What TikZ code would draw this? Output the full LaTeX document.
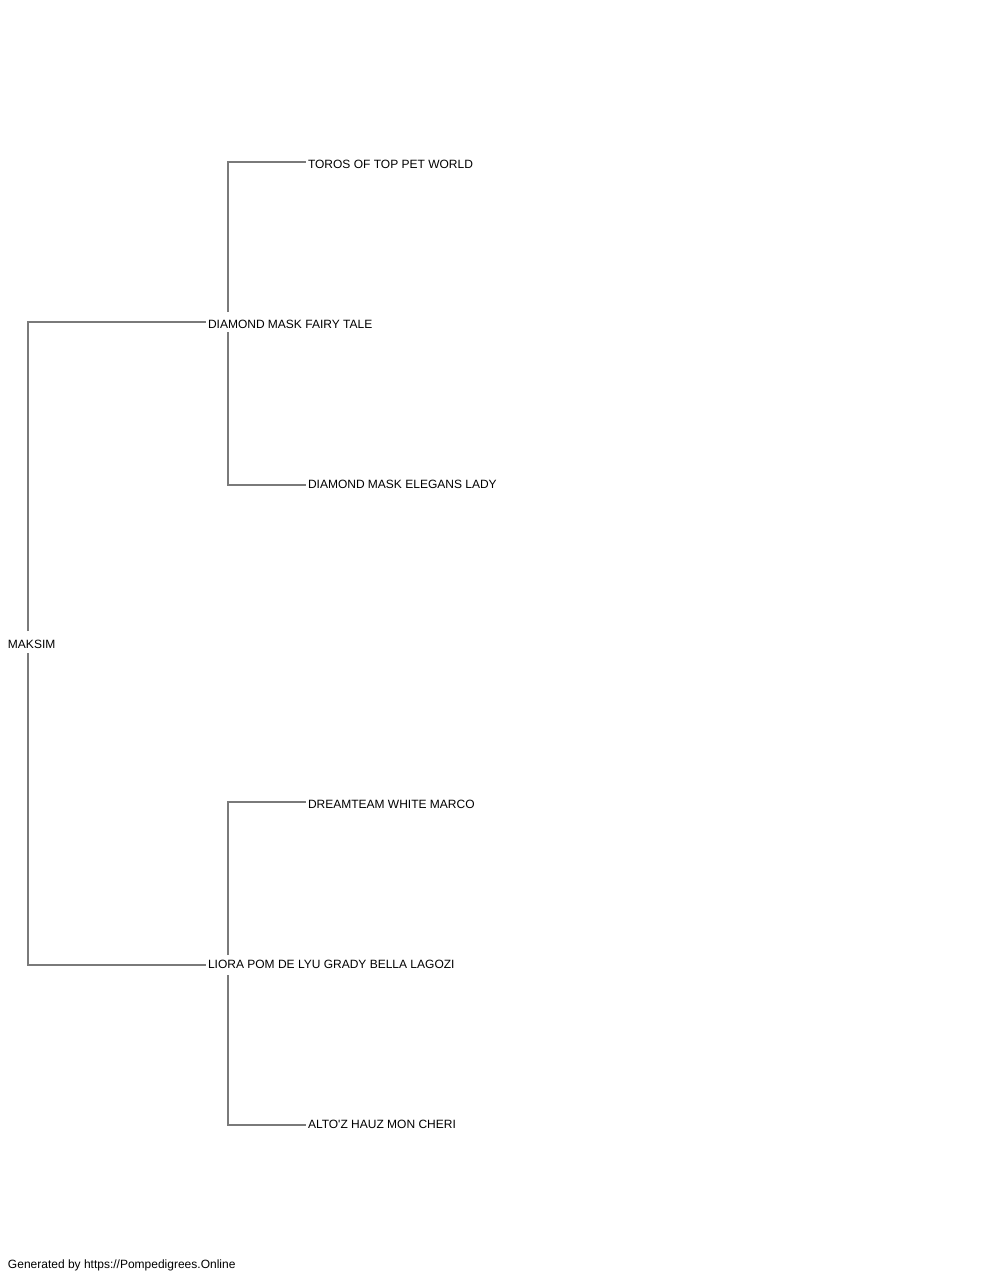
\documentclass[tikz,border=0pt]{standalone}
\usepackage{fontspec}
\setmainfont{Liberation Sans}[Ligatures=TeXOff]
\definecolor{linegray}{HTML}{7A7A7A}
\tikzset{
  dog/.style={anchor=west, inner xsep=2pt, inner ysep=0pt, outer sep=0pt,
    minimum height=20pt, text height=12.6pt, text depth=0pt,
    font=\fontsize{12}{14}\selectfont, text=black},
  dogup/.style={dog, text height=6.6pt},
  link/.style={draw=linegray, line width=1.3pt},
}
\begin{document}
\begin{tikzpicture}[x=1pt,y=-1pt]
\useasboundingbox (0,0) rectangle (1000,1280);
\coordinate (v0) at (28,0);
\coordinate (v1) at (228,0);
\node[dog, minimum height=22pt] (m) at (6,642) {MAKSIM};
\node[dog] (d1) at (206,322) {DIAMOND MASK FAIRY TALE};
\node[dogup] (d2) at (206,965) {LIORA POM DE LYU GRADY BELLA LAGOZI};
\node[dog] (t1) at (306,162) {TOROS OF TOP PET WORLD};
\node[dogup] (t2) at (306,485) {DIAMOND MASK ELEGANS LADY};
\node[dog] (t3) at (306,802) {DREAMTEAM WHITE MARCO};
\node[dogup] (t4) at (306,1125) {ALTO'Z HAUZ MON CHERI};
\node[dog] (f) at (6,1262) {Generated by https://Pompedigrees.Online};
\draw[link] (m.north -| v0) |- (d1.west);
\draw[link] (m.south -| v0) |- (d2.west);
\draw[link] (d1.north -| v1) |- (t1.west);
\draw[link] (d1.south -| v1) |- (t2.west);
\draw[link] (d2.north -| v1) |- (t3.west);
\draw[link] (d2.south -| v1) |- (t4.west);
\end{tikzpicture}
\end{document}
